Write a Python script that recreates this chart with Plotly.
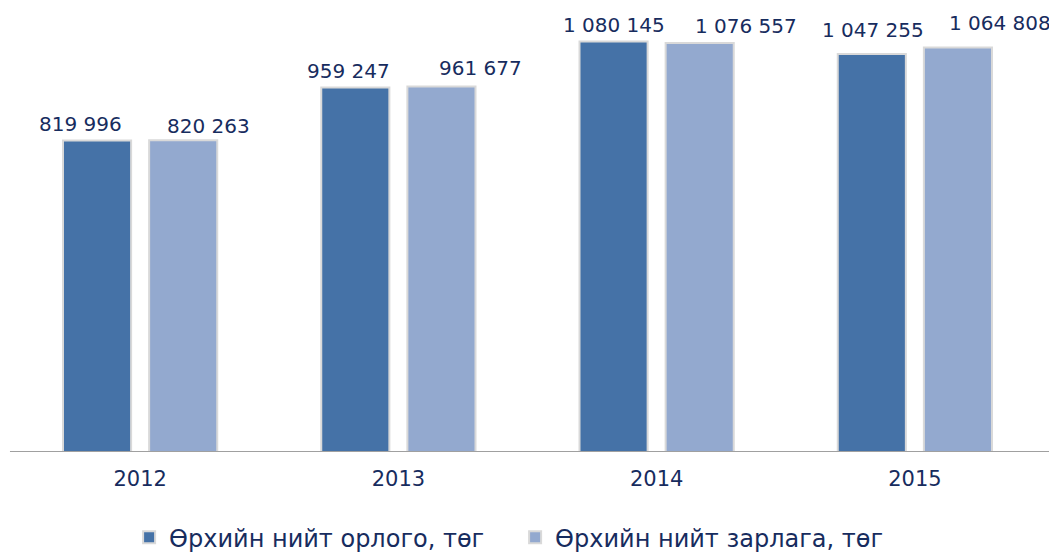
import plotly.graph_objects as go

years = ["2012", "2013", "2014", "2015"]
income = [819996, 959247, 1080145, 1047255]
expense = [820263, 961677, 1076557, 1064808]
income_labels = ["819 996", "959 247", "1 080 145", "1 047 255"]
expense_labels = ["820 263", "961 677", "1 076 557", "1 064 808"]
series_names = ["Өрхийн нийт орлого, төг", "Өрхийн нийт зарлага, төг"]

# label placement offsets (pixels) relative to category centre / bar top
income_dx = [-60, -50, -43, -42]
income_dy = [2, 3, 3, 10]
expense_dx = [68, 82, 89, 85]
expense_dy = [0, 5, 3, 10]

C_DARK = "#4572A7"
C_LIGHT = "#93A9CF"
C_TEXT = "#172C5E"
FONT = "DejaVu Sans"

fig = go.Figure()
fig.add_trace(go.Bar(x=years, y=income, name=series_names[0],
                     marker=dict(color=C_DARK, line=dict(color="#d9d9d9", width=2))))
fig.add_trace(go.Bar(x=years, y=expense, name=series_names[1],
                     marker=dict(color=C_LIGHT, line=dict(color="#d9d9d9", width=2))))

# category axis: annotations use the category index
for i, (v, t, dx, dy) in enumerate(zip(income, income_labels, income_dx, income_dy)):
    fig.add_annotation(x=i, y=v, text=t, showarrow=False, xref="x", yref="y",
                       xanchor="center", yanchor="bottom", xshift=dx, yshift=dy,
                       font=dict(family=FONT, size=20, color=C_TEXT))
for i, (v, t, dx, dy) in enumerate(zip(expense, expense_labels, expense_dx, expense_dy)):
    fig.add_annotation(x=i, y=v, text=t, showarrow=False, xref="x", yref="y",
                       xanchor="center", yanchor="bottom", xshift=dx, yshift=dy,
                       font=dict(family=FONT, size=20, color=C_TEXT))

# baseline axis line extending to the right edge
fig.add_shape(type="line", xref="paper", yref="y", x0=-0.001, x1=1.013, y0=0, y1=0,
              line=dict(color="#a0a0a0", width=2))

fig.update_layout(
    width=1049, height=545,
    margin=dict(l=3, r=13, t=12, b=101, autoexpand=False),
    paper_bgcolor="white", plot_bgcolor="white",
    barmode="group", bargap=0.333, bargroupgap=0.209,
    showlegend=True,
    legend=dict(orientation="h", x=0.488, xanchor="center", y=-0.146, yanchor="top",
                font=dict(family=FONT, size=24, color=C_TEXT),
                traceorder="normal", itemwidth=30, entrywidth=341),
    xaxis=dict(type="category", range=[-0.5, 3.5], showgrid=False, showline=False,
               zeroline=False, ticks="outside", ticklen=8, tickcolor="rgba(0,0,0,0)",
               tickfont=dict(family=FONT, size=21, color=C_TEXT)),
    yaxis=dict(range=[0, 1137000], visible=False, showgrid=False, zeroline=False),
)

fig.write_html("out.html")
